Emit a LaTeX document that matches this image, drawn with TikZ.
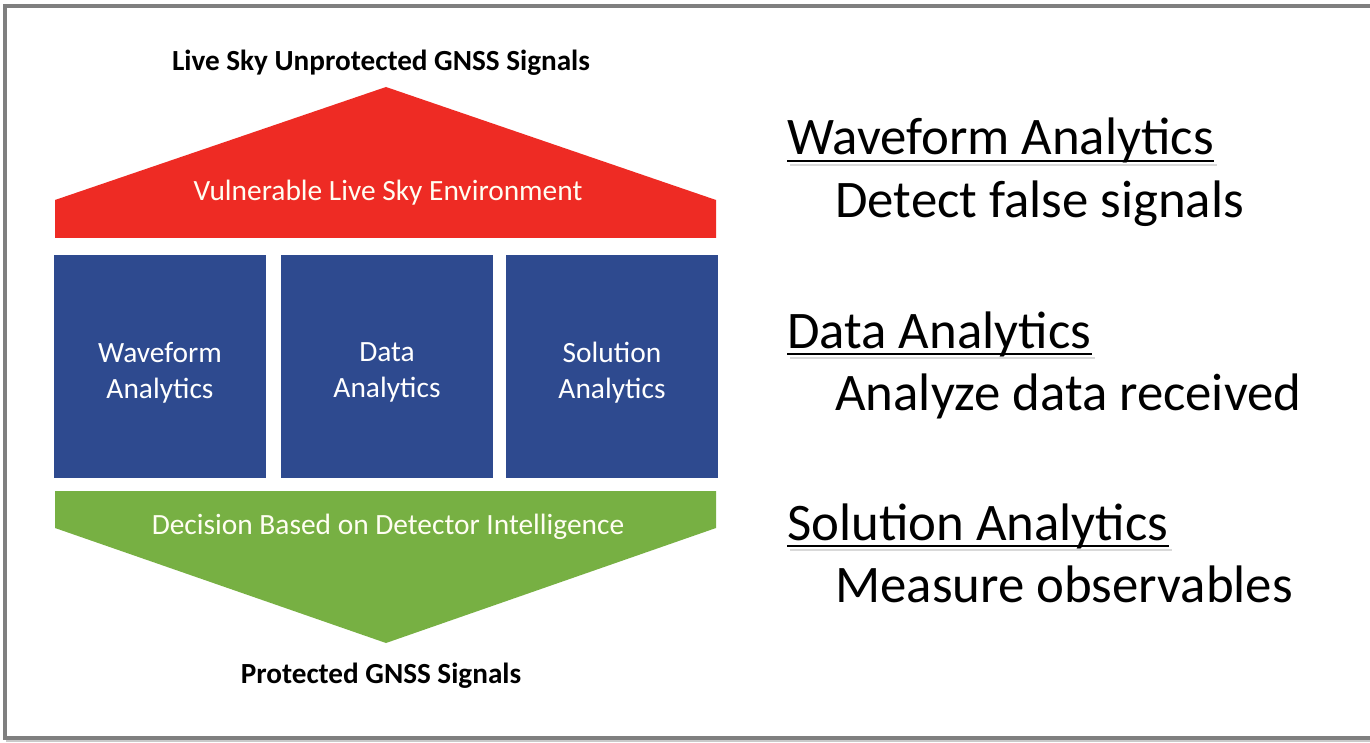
\documentclass[tikz,border=0pt]{standalone}
\usepackage{fontspec}
\setmainfont{Carlito}
\usepackage{xcolor}
\usepackage{tikz}
\usetikzlibrary{shadows, positioning, calc}
\definecolor{skyred}{HTML}{EE2B24}
\definecolor{pillarblue}{HTML}{2E4A8F}
\definecolor{decgreen}{HTML}{77B043}
\definecolor{framegray}{HTML}{7F7F7F}
\tikzstyle{frame} = [draw=framegray, line width=2pt, drop shadow={shadow xshift=0.5pt, shadow yshift=-2pt, opacity=.35, fill=black!60}]
\tikzstyle{pillar} = [rectangle, minimum width=106pt, minimum height=111.5pt, inner sep=0pt, fill=pillarblue]
\tikzstyle{pillartext} = [text=white, align=center, font=\fontsize{14.7}{18}\selectfont]
\tikzstyle{bandtext} = [text=white!95!yellow, font=\fontsize{14.7}{16}\selectfont]
\tikzstyle{signal} = [font=\bfseries\fontsize{14.6}{16}\selectfont]
\tikzstyle{heading} = [anchor=base west, inner sep=0pt, font=\fontsize{26.4}{30}\selectfont]
\tikzstyle{detail} = [anchor=base west, inner sep=0pt, font=\fontsize{26.4}{30}\selectfont]
\tikzstyle{under} = [line width=1.2pt]

\begin{document}
\begin{tikzpicture}[x=0.5pt, y=-0.5pt]
    \useasboundingbox (0,0) rectangle (1370,743);
    \fill[white] (0,0) rectangle (1370,743);
    \path[frame, fill=white] (5,6) rectangle (1385,738);

    % roof
    \fill[skyred] (55,238) -- (55,200) -- (386,87) -- (716,200) -- (716,238) -- cycle;
    \node (top) [signal] at (381,63) {Live Sky Unprotected GNSS Signals};
    \node (roof) [bandtext] at (388,193) {Vulnerable Live Sky Environment};

    % pillars
    \node (wave) [pillar] at (160,366.5) {};
    \node (data) [pillar] at (387,366.5) {};
    \node (sol) [pillar] at (612,366.5) {};
    \node (wavetxt) [pillartext] at ([yshift=-3pt]wave.center) {Waveform\\Analytics};
    \node (datatxt) [pillartext] at ([yshift=-3pt]data.center) {Data\\Analytics};
    \node (soltxt) [pillartext] at ([yshift=-3pt]sol.center) {Solution\\Analytics};

    % base
    \fill[decgreen] (55,491) -- (716,491) -- (716,528) -- (386,643) -- (55,528) -- cycle;
    \node (dec) [bandtext] at (388,527) {Decision Based on Detector Intelligence};
    \node (bottom) [signal] at (381,676) {Protected GNSS Signals};

    % legend
    \node (h1) [heading] at (787,155) {Waveform Analytics};
    \node (d1) [detail] at (835,218) {Detect false signals};
    \node (h2) [heading] at (787,348) {Data Analytics};
    \node (d2) [detail] at (835,410) {Analyze data received};
    \node (h3) [heading] at (787,540) {Solution Analytics};
    \node (d3) [detail] at (835,602) {Measure observables};

    \foreach \h in {h1, h2, h3} {
        \draw[under, black!15] ([xshift=1.5pt, yshift=-5pt]\h.base west) -- ([xshift=1.5pt, yshift=-5pt]\h.base east);
        \draw[under] ([yshift=-3pt]\h.base west) -- ([yshift=-3pt]\h.base east);
    }
\end{tikzpicture}
\end{document}
